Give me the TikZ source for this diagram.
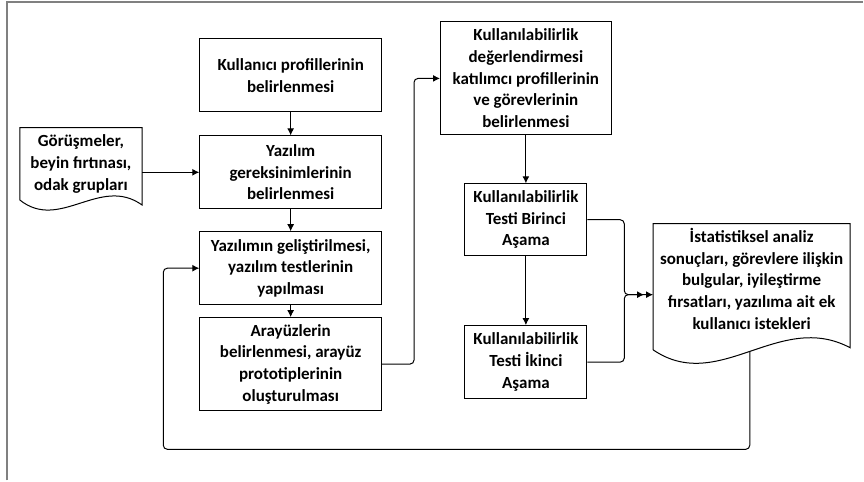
\documentclass[tikz,border=0pt]{standalone}
\usepackage{fontspec}
\setmainfont{Carlito}
\usetikzlibrary{positioning,arrows.meta}
\begin{document}
\begin{tikzpicture}
    [
    x=1pt, y=-1pt,
    every node/.style={font=\fontsize{17}{21.7}\selectfont\bfseries,align=center,inner sep=1pt},
    box/.style={draw,line width=1pt,minimum width=182pt,minimum height=73pt},
    testbox/.style={box,minimum width=122pt},
    doc/.style={minimum width=#1,minimum height=72pt},
    conn/.style={line width=1pt,rounded corners=4pt,-{Latex[length=7pt,width=7pt]}},
    ]
    % frame
    \draw[line width=2pt,gray] (7,481) -- (7,2) -- (864,2);
    \useasboundingbox (0,0) rectangle (864,481);

    % left column
    \node[box] (profiles) at (291,75.5) {Kullanıcı profillerinin\\belirlenmesi};
    \node[box,below=23pt of profiles] (req) {Yazılım\\gereksinimlerinin\\belirlenmesi};
    \node[box,below=22pt of req] (dev) {Yazılımın geliştirilmesi,\\yazılım testlerinin\\yapılması};
    \node[box,below=12pt of dev,minimum height=93pt] (ui) {Arayüzlerin\\belirlenmesi, arayüz\\prototiplerinin\\oluşturulması};

    % input document
    \node[doc=122pt] (interviews) at (81,164) {Görüşmeler,\\beyin fırtınası,\\odak grupları};
    \draw[line width=1pt] (interviews.south west) -- (interviews.north west)
      -- (interviews.north east) -- ([yshift=-5pt]interviews.south east)
      .. controls +(-42,-30) and +(40,32) .. (interviews.south west);

    % usability column
    \node[box,minimum width=171pt,minimum height=113pt] (evalprep) at (526.5,78.5)
      {Kullanılabilirlik\\değerlendirmesi\\katılımcı profillerinin\\ve görevlerinin\\belirlenmesi};
    \node[testbox,minimum height=72pt,below=48pt of evalprep] (test1) {Kullanılabilirlik\\Testi Birinci\\Aşama};
    \node[testbox,below=69pt of test1] (test2) {Kullanılabilirlik\\Testi İkinci\\Aşama};

    % output document
    \node[doc=197pt,minimum height=110pt] (stats) at (752.5,279)
      {İstatistiksel analiz\\sonuçları, görevlere ilişkin\\bulgular, iyileştirme\\fırsatları, yazılıma ait ek\\kullanıcı istekleri};
    \draw[line width=1pt] ([yshift=-16pt]stats.south west) -- (stats.north west)
      -- (stats.north east) -- ([yshift=-14pt]stats.south east)
      .. controls +(-71,-38) and +(66,45) .. ([yshift=-16pt]stats.south west)
      coordinate[pos=0.5] (wave);
    \coordinate (statsin) at ([yshift=-16pt]stats.west);

    % connectors
    \draw[conn] (profiles) -- (req);
    \draw[conn] (req) -- (dev);
    \draw[conn] (dev) -- (ui);
    \draw[conn] (req.west -| interviews.east) -- (req.west);
    \draw[conn] (ui.east) -- ++(32,0) |- (evalprep.west);
    \draw[conn] (evalprep) -- (test1);
    \draw[conn] (test1) -- (test2);
    \draw[conn] (test1.east) -- ++(37,0) |- (statsin);
    \draw[conn,shorten >=9pt] (test2.east) -- ++(37,0) |- (statsin);
    \draw[conn] (wave) -- ++(0,98) -| ([xshift=-36pt]dev.west) -- (dev.west);
  \end{tikzpicture}
\end{document}
